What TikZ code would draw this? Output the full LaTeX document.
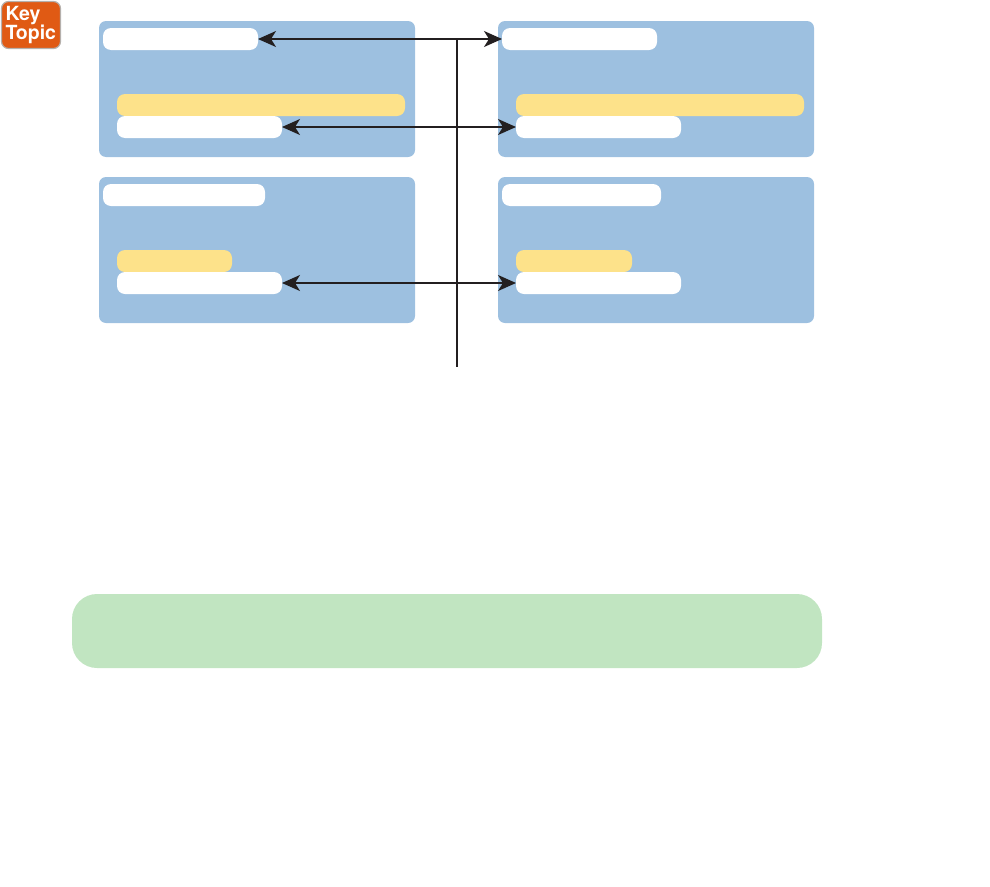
\documentclass[tikz,border=0pt]{standalone}
\usepackage{fontspec}
\setmainfont{TeX Gyre Heros}
\usetikzlibrary{arrows.meta}
\definecolor{panelblue}{HTML}{9DC0E0}
\definecolor{baryellow}{HTML}{FDE28A}
\definecolor{bargreen}{HTML}{C1E5C1}
\definecolor{keyorange}{HTML}{E05A14}
\definecolor{keygray}{HTML}{B5B0AC}
\definecolor{linedark}{HTML}{231F20}
\newcommand{\pbox}[6]{%
  \node[#6,minimum width={(#4-#2)*1pt},minimum height={(#5-#3)*1pt}] (#1) at ({(#2+#4)/2},{-(#3+#5)/2}) {};}
\tikzset{
  x=1pt,y=1pt,
  panel/.style={fill=panelblue,rounded corners=7pt,inner sep=0pt,outer sep=0pt},
  whitebar/.style={fill=white,rounded corners=8pt,inner sep=0pt,outer sep=0pt},
  yellowbar/.style={fill=baryellow,rounded corners=8pt,inner sep=0pt,outer sep=0pt},
  greenbar/.style={fill=bargreen,rounded corners=25pt,inner sep=0pt,outer sep=0pt},
  keybadge/.style={fill=keyorange,draw=keygray,line width=1.2pt,rounded corners=7pt,inner sep=0pt,outer sep=0pt,
    text=white,align=left,font=\bfseries\fontsize{19.5}{18.5}\selectfont},
  link/.style={draw=linedark,line width=1.4pt,{Stealth[length=18pt,width=16pt,inset=5pt]}-{Stealth[length=18pt,width=16pt,inset=5pt]}},
  trunk/.style={draw=linedark,line width=1.4pt}
}
\begin{document}
\begin{tikzpicture}
\useasboundingbox (0,0) rectangle (990,-886);
\pbox{pTL}{99}{21}{415}{157}{panel}
\pbox{pTR}{498}{21}{814}{157}{panel}
\pbox{pBL}{99}{177}{415}{323}{panel}
\pbox{pBR}{498}{177}{814}{323}{panel}
\pbox{wTLa}{103}{28}{258}{50}{whitebar}
\pbox{wTRa}{502}{28}{657}{50}{whitebar}
\pbox{yTL}{117}{94}{405}{116}{yellowbar}
\pbox{yTR}{516}{94}{804}{116}{yellowbar}
\pbox{wTLb}{117}{116}{282}{138}{whitebar}
\pbox{wTRb}{516}{116}{681}{138}{whitebar}
\pbox{wBLa}{103}{184}{265}{206}{whitebar}
\pbox{wBRa}{502}{184}{661}{206}{whitebar}
\pbox{yBL}{117}{250}{232}{272}{yellowbar}
\pbox{yBR}{516}{250}{632}{272}{yellowbar}
\pbox{wBLb}{117}{272}{282}{294}{whitebar}
\pbox{wBRb}{516}{272}{681}{294}{whitebar}
\pbox{green}{72}{594}{822}{668}{greenbar}
\node[keybadge,minimum width=59pt,minimum height=47pt,text width=51pt] (key) at (31,-25) {Key\\[-1pt]Topic};
\coordinate (trunktop) at (457,-39);
\coordinate (trunkend) at (457,-367);
\draw[trunk] (trunktop) -- (trunkend);
\draw[link] (wTLa.east) -- (wTRa.west);
\draw[link] (wTLb.east) -- (wTRb.west);
\draw[link] (wBLb.east) -- (wBRb.west);
\end{tikzpicture}
\end{document}
